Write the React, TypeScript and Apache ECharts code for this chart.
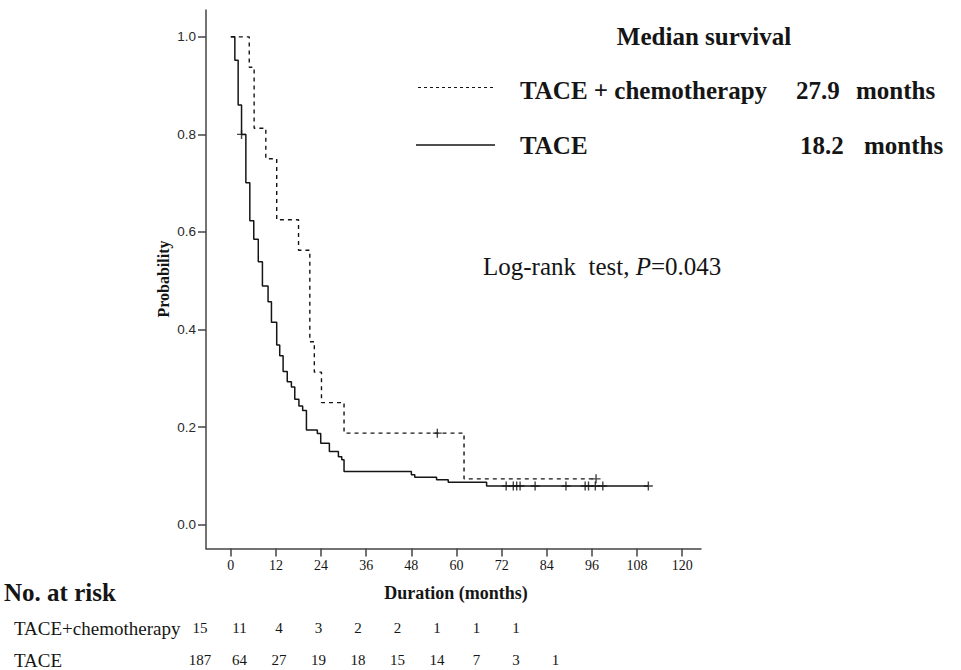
import React, { useEffect, useRef } from "react";
import * as echarts from "echarts";

// ---- data ----
const xTicks = [0, 12, 24, 36, 48, 60, 72, 84, 96, 108, 120];
const yTicks = [0, 0.2, 0.4, 0.6, 0.8, 1.0];

// TACE (solid) Kaplan-Meier steps: time (months) and survival after the event
const taceTimes = [0, 1.07, 1.95, 2.85, 4.0, 5.05, 6.1, 7.3, 8.4, 9.9, 10.8, 12.2, 13.0, 13.9, 15.0, 16.1, 17.0, 18.1, 19.1, 20.1, 23.0, 23.9, 26.2, 28.6, 29.5, 30.1, 48.0, 48.9, 54.7, 57.8, 68.0, 111.0];
const taceSurv = [1.0, 0.952, 0.86, 0.8, 0.701, 0.623, 0.585, 0.539, 0.489, 0.457, 0.415, 0.368, 0.346, 0.314, 0.293, 0.282, 0.257, 0.243, 0.234, 0.194, 0.187, 0.167, 0.15, 0.139, 0.133, 0.109, 0.102, 0.097, 0.092, 0.087, 0.079, 0.079];
const taceCensor = [2.85, 73.2, 75.1, 76.0, 76.9, 80.9, 89.1, 94.2, 95.1, 96.9, 98.9, 111.0];

// TACE + chemotherapy (dashed)
const chemoTimes = [0, 4.9, 6.2, 9.3, 12.2, 18.0, 21.0, 22.2, 24.1, 30.1, 62.0, 97.1];
const chemoSurv = [1.0, 0.9375, 0.8125, 0.75, 0.625, 0.5625, 0.375, 0.3125, 0.25, 0.1875, 0.09375, 0.09375];
const chemoCensor = [54.9, 97.1];

// numbers at risk
const riskChemo = [15, 11, 4, 3, 2, 2, 1, 1, 1];
const riskTace = [187, 64, 27, 19, 18, 15, 14, 7, 3, 1];

const groupNames = ["TACE + chemotherapy", "TACE"];
const medians = ["27.9", "18.2"];

const SERIF = "'Liberation Serif', 'Times New Roman', serif";
const SANS = "'Liberation Sans', Arial, sans-serif";
const INK = "#151515";

function survAt(times: number[], surv: number[], t: number) {
  let s = surv[0];
  for (let i = 0; i < times.length; i++) if (times[i] <= t) s = surv[i];
  return s;
}

export default function App() {
  const ref = useRef<HTMLDivElement>(null);
  useEffect(() => {
    if (!ref.current) return;
    const chart = echarts.init(ref.current, undefined, { renderer: "svg" });
    const plus = "path://M5,0L5,10M0,5L10,5";
    const riskText = (arr: number[], y: number) =>
      arr.map((v, i) => ({
        type: "text",
        x: 200 + 39.5 * i,
        y,
        style: { text: String(v), font: `15px ${SERIF}`, fill: INK, textAlign: "center", textVerticalAlign: "middle" },
      }));
    chart.setOption({
      animation: false,
      backgroundColor: "#fff",
      grid: { left: 206, right: 260, top: 10, bottom: 121.5 },
      xAxis: {
        type: "value",
        min: -6.6,
        max: 125,
        splitLine: { show: false },
        axisLine: { show: true, onZero: false, lineStyle: { color: "#444", width: 1.5 } },
        axisTick: { show: true, length: 8, customValues: xTicks, lineStyle: { color: "#444", width: 1.5 } },
        axisLabel: { customValues: xTicks, margin: 10, color: INK, fontFamily: SERIF, fontSize: 14 },
      },
      yAxis: {
        type: "value",
        min: -0.049,
        max: 1.055,
        splitLine: { show: false },
        axisLine: { show: true, onZero: false, lineStyle: { color: "#444", width: 1.5 } },
        axisTick: { show: true, length: 8, customValues: yTicks, lineStyle: { color: "#444", width: 1.5 } },
        axisLabel: {
          customValues: yTicks,
          margin: 10,
          color: "#2a2a2a",
          fontFamily: SANS,
          fontSize: 13.5,
          formatter: (v: number) => v.toFixed(1),
        },
      },
      series: [
        {
          type: "line",
          step: "end",
          symbol: "none",
          data: taceTimes.map((t, i) => [t, taceSurv[i]]),
          lineStyle: { color: INK, width: 1.5 },
        },
        {
          type: "line",
          step: "end",
          symbol: "none",
          data: chemoTimes.map((t, i) => [t, chemoSurv[i]]),
          lineStyle: { color: INK, width: 1.4, type: [4, 4] },
        },
        {
          type: "scatter",
          symbol: plus,
          symbolSize: 9,
          data: taceCensor.map((t) => [t, survAt(taceTimes, taceSurv, t)]),
          itemStyle: { color: "transparent", borderColor: INK, borderWidth: 1.4 },
        },
        {
          type: "scatter",
          symbol: plus,
          symbolSize: 9,
          data: chemoCensor.map((t) => [t, survAt(chemoTimes, chemoSurv, t)]),
          itemStyle: { color: "transparent", borderColor: INK, borderWidth: 1.4 },
        },
      ],
      graphic: [
        {
          type: "text",
          x: 163,
          y: 279,
          rotation: Math.PI / 2,
          style: { text: "Probability", font: `bold 16px ${SERIF}`, fill: INK, textAlign: "center", textVerticalAlign: "middle" },
        },
        {
          type: "text",
          x: 704,
          y: 36,
          style: { text: "Median survival", font: `bold 25px ${SERIF}`, fill: INK, textAlign: "center", textVerticalAlign: "middle" },
        },
        { type: "line", shape: { x1: 418, y1: 87.5, x2: 496, y2: 87.5 }, style: { stroke: INK, lineWidth: 1, lineDash: [3, 3] } },
        { type: "line", shape: { x1: 416, y1: 145, x2: 495, y2: 145 }, style: { stroke: INK, lineWidth: 1.5 } },
        { type: "text", x: 520, y: 90, style: { text: groupNames[0], font: `bold 25px ${SERIF}`, fill: INK, textVerticalAlign: "middle" } },
        { type: "text", x: 796, y: 90, style: { text: medians[0], font: `bold 25px ${SERIF}`, fill: INK, textVerticalAlign: "middle" } },
        { type: "text", x: 856, y: 90, style: { text: "months", font: `bold 25px ${SERIF}`, fill: INK, textVerticalAlign: "middle" } },
        { type: "text", x: 520, y: 145, style: { text: groupNames[1], font: `bold 25px ${SERIF}`, fill: INK, textVerticalAlign: "middle" } },
        { type: "text", x: 800, y: 145, style: { text: medians[1], font: `bold 25px ${SERIF}`, fill: INK, textVerticalAlign: "middle" } },
        { type: "text", x: 864, y: 145, style: { text: "months", font: `bold 25px ${SERIF}`, fill: INK, textVerticalAlign: "middle" } },
        {
          type: "text",
          x: 483,
          y: 266,
          style: {
            text: "{a|Log-rank\u00A0 test, }{p|P}{a|=0.043}",
            fill: INK,
            textVerticalAlign: "middle",
            rich: {
              a: { font: `25px ${SERIF}`, fill: INK },
              p: { font: `italic 25px ${SERIF}`, fill: INK },
            },
          },
        },
        { type: "text", x: 4, y: 592, style: { text: "No. at risk", font: `bold 25px ${SERIF}`, fill: INK, textVerticalAlign: "middle" } },
        { type: "text", x: 456, y: 593, style: { text: "Duration (months)", font: `bold 18px ${SERIF}`, fill: INK, textAlign: "center", textVerticalAlign: "middle" } },
        { type: "text", x: 14, y: 628, style: { text: "TACE+chemotherapy", font: `19px ${SERIF}`, fill: INK, textVerticalAlign: "middle" } },
        { type: "text", x: 14, y: 660, style: { text: "TACE", font: `19px ${SERIF}`, fill: INK, textVerticalAlign: "middle" } },
        ...riskText(riskChemo, 628),
        ...riskText(riskTace, 660),
      ],
    });
    return () => chart.dispose();
  }, []);
  return <div ref={ref} style={{ position: "fixed", left: 0, top: 0, width: 961, height: 670, background: "#fff" }} />;
}
